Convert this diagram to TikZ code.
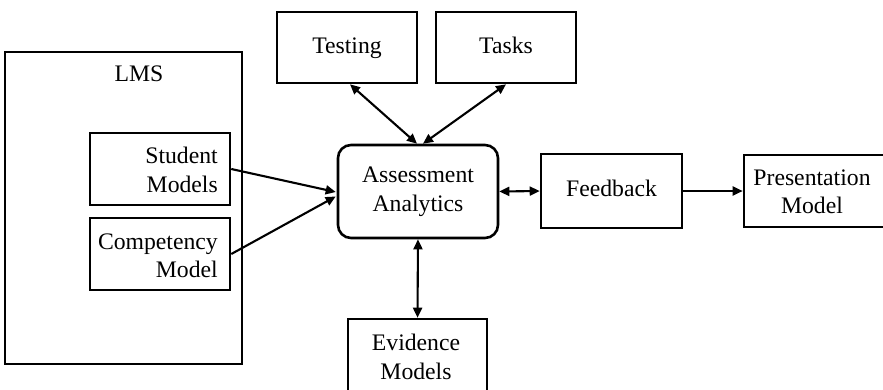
\documentclass[tikz,border=0pt]{standalone}
\usepackage{fontspec}
\setmainfont{Liberation Serif}
\usetikzlibrary{arrows.meta,calc}
\begin{document}
\begin{tikzpicture}[x=1pt,y=-1pt,
  txt/.style={font=\fontsize{23.7}{28.5}\selectfont, inner sep=0pt},
  box/.style={draw, line width=2.6pt, inner sep=0pt, txt, align=center},
  oneline/.style={text height=16pt, text depth=5pt},
  link/.style={line width=2.1pt, -{Triangle[length=10pt,width=9pt]}},
  dlink/.style={line width=2.1pt, {Triangle[length=10pt,width=9pt]}-{Triangle[length=10pt,width=9pt]}}]
\useasboundingbox (0,0) rectangle (883,389);
\clip (0,0) rectangle (883,389);

% learning management system with its two models
\node[box, minimum width=237pt, minimum height=312pt] (lms) at (123.5,208) {};
\node[txt] (lmstitle) at (139,74) {LMS};
\node[box, minimum width=140pt, minimum height=72pt] (student) at (160,169) {};
\node[txt, anchor=east, align=right] (studenttext) at (218,170) {Student\\Models};
\node[box, minimum width=140pt, minimum height=72pt] (competency) at (160,254) {};
\node[txt, anchor=east, align=right] (competencytext) at (218,256) {Competency\\Model};

% upper sources
\node[box, oneline, minimum width=140pt, minimum height=71pt] (testing) at (347,47.5) {Testing};
\node[box, oneline, minimum width=140pt, minimum height=71pt] (tasks) at (506,47.5) {Tasks};

% central analytics block
\node[box, rounded corners=13pt, minimum width=160pt, minimum height=93pt] (aa) at (418,191.5) {Assessment\\Analytics};

% output chain
\node[box, oneline, minimum width=141pt, minimum height=74pt] (feedback) at (611.5,191) {Feedback};
\node[box, minimum width=152pt, minimum height=72pt] (presentation) at (820,191) {};
\node[txt, align=center] (presentationtext) at (812,192) {Presentation\\Model};

% evidence models below
\node[box, minimum width=139pt, minimum height=80pt] (evidence) at (417.5,359) {};
\node[txt, align=center] (evidencetext) at (416,357) {Evidence\\Models};

% connectors
\draw[dlink] ($(testing.south)+(3,0)$) -- ($(aa.north)+(-1,0)$);
\draw[dlink] (tasks.south) -- ($(aa.north)+(5,0)$);
\draw[link] (student.east) -- ($(aa.west)+(-1,0.5)$);
\draw[link] (competency.east) -- ($(aa.west)+(-1,5)$);
\draw[dlink] (aa.east) -- (feedback.west);
\draw[link] (feedback.east) -- (presentation.west);
\draw[dlink] (aa.south) -- (evidence.north);
\end{tikzpicture}
\end{document}
